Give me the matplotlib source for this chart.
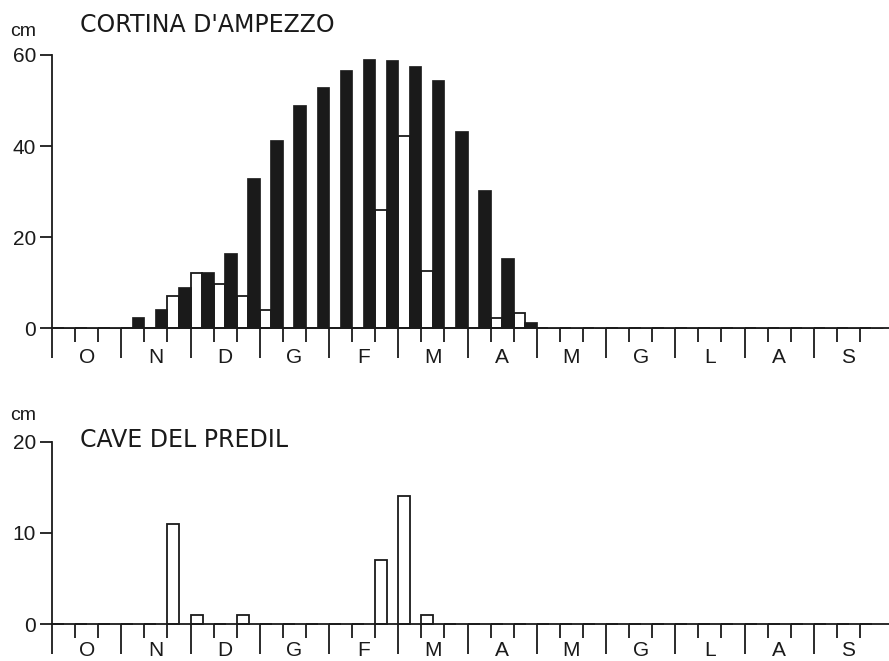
import numpy as np
import matplotlib
matplotlib.use("Agg")
import matplotlib.pyplot as plt

# ---- data (10-day periods, October to September) ----
months = ['O', 'N', 'D', 'G', 'F', 'M', 'A', 'M', 'G', 'L', 'A', 'S']

cortina_depth = [0, 0, 0,
                 2.4, 4.2, 9.1,
                 12.3, 16.5, 32.9,
                 41.3, 49.0, 53.0,
                 56.6, 59.1, 59.0,
                 57.6, 54.5, 43.3,
                 30.4, 15.4, 1.3,
                 0, 0, 0, 0, 0, 0, 0, 0, 0, 0, 0, 0, 0, 0, 0]

cortina_new = [0, 0, 0,
               0, 0, 7.1,
               12.1, 9.8, 7.2,
               4.1, 0, 0,
               0, 0, 26.0,
               42.3, 12.5, 0,
               0, 2.3, 3.3,
               0, 0, 0, 0, 0, 0, 0, 0, 0, 0, 0, 0, 0, 0, 0]

predil_new = [0, 0, 0,
              0, 0, 11,
              1, 0, 1,
              0, 0, 0,
              0, 0, 7,
              14, 1, 0,
              0, 0, 0,
              0, 0, 0, 0, 0, 0, 0, 0, 0, 0, 0, 0, 0, 0, 0]

titles = ["CORTINA D'AMPEZZO", "CAVE DEL PREDIL"]
y_ticks = [[0, 20, 40, 60], [0, 10, 20]]
y_max = [60, 20]

W, H = 889, 661
fig = plt.figure(figsize=(W / 100, H / 100), dpi=100)
fig.patch.set_facecolor('white')

px_per_dec = (883 - 52) / 36.0
xmax = (W - 52) / px_per_dec

LW = 1.3
INK = '#1a1a1a'
TICK_FONT = 'Liberation Sans'


def make_axes(ytop, ybot):
    return fig.add_axes([52 / W, 1 - ybot / H, (W - 52) / W, (ybot - ytop) / H])


def style(ax, ymax, yt, label_off):
    ax.set_xlim(0, xmax)
    ax.set_ylim(0, ymax)
    for s in ('top', 'right'):
        ax.spines[s].set_visible(False)
    for s in ('left', 'bottom'):
        ax.spines[s].set_linewidth(LW)
        ax.spines[s].set_color(INK)
    ax.set_yticks(yt)
    ax.set_yticklabels([str(v) for v in yt], fontfamily=TICK_FONT, fontsize=15, color=INK)
    ax.tick_params(axis='y', direction='out', length=8.6, width=LW, pad=3.0, colors=INK)
    n = len(months)
    ax.set_xticks(np.arange(0, 3 * n, 3))
    ax.set_xticks([d for d in range(1, 3 * n) if d % 3 != 0], minor=True)
    ax.set_xticklabels([])
    ax.tick_params(axis='x', which='major', direction='out', length=21.8, width=LW, colors=INK)
    ax.tick_params(axis='x', which='minor', direction='out', length=10, width=LW, colors=INK)
    for i, m in enumerate(months):
        ax.annotate(m, xy=(3 * i + 1.5, 0), xycoords=('data', 'axes fraction'),
                    xytext=(0, label_off), textcoords='offset points',
                    ha='center', va='center', fontfamily=TICK_FONT, fontsize=15,
                    color=INK, annotation_clip=False)


slots = np.arange(36)

# ---- top panel ----
ax1 = make_axes(55.0, 328.3)
style(ax1, y_max[0], y_ticks[0], -21.0)
ax1.bar(slots, cortina_new, width=0.5, align='edge', facecolor='white',
        edgecolor=INK, linewidth=LW, zorder=2, clip_on=False)
ax1.bar(slots + 0.46, cortina_depth, width=0.54, align='edge', facecolor=INK,
        edgecolor=INK, linewidth=0.5, zorder=3, clip_on=False)
fig.text(80 / W, 1 - 25 / H, titles[0], fontfamily='DejaVu Sans', fontsize=17,
         color=INK, ha='left', va='center')
fig.text(23 / W, 1 - 31 / H, 'cm', fontfamily=TICK_FONT, fontsize=14,
         color=INK, ha='center', va='center')

# ---- bottom panel ----
ax2 = make_axes(441.7, 624.3)
style(ax2, y_max[1], y_ticks[1], -18.8)
ax2.bar(slots, predil_new, width=0.52, align='edge', facecolor='white',
        edgecolor=INK, linewidth=LW, zorder=2, clip_on=False)
fig.text(80 / W, 1 - 440 / H, titles[1], fontfamily='DejaVu Sans', fontsize=17,
         color=INK, ha='left', va='center')
fig.text(23 / W, 1 - 415 / H, 'cm', fontfamily=TICK_FONT, fontsize=14,
         color=INK, ha='center', va='center')

fig.savefig('out.png', dpi=100, facecolor='white')
